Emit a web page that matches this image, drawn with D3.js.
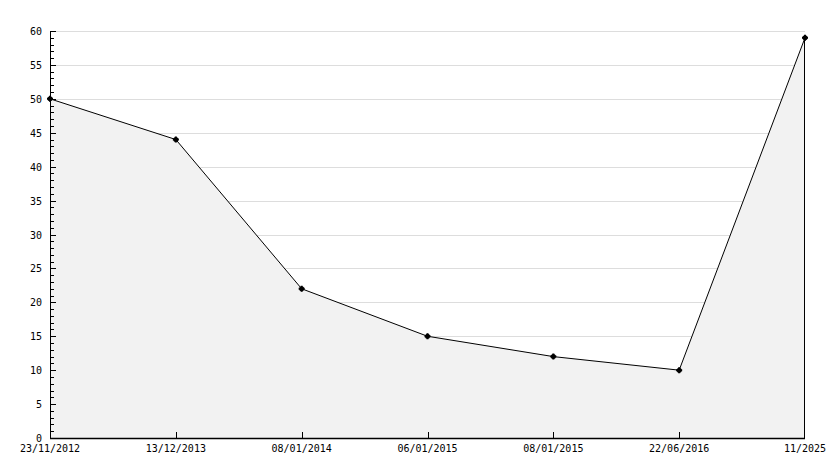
<!DOCTYPE html>
<html lang="en">
<head>
<meta charset="utf-8">
<script src="https://cdnjs.cloudflare.com/ajax/libs/d3/7.7.0/d3.min.js"></script>
<style>
html, body { margin: 0; padding: 0; background: #fff; }
svg { display: block; font-family: 'DejaVu Sans Mono', monospace; }
text { font-size: 10px; fill: #000; }
</style>
</head>
<body>
<svg width="834" height="468"></svg>
<script>
const dates = ['23/11/2012', '13/12/2013', '08/01/2014', '06/01/2015', '08/01/2015', '22/06/2016', '11/2025'];
const values = [50, 44, 22, 15, 12, 10, 59];
const yTicks = [0, 5, 10, 15, 20, 25, 30, 35, 40, 45, 50, 55, 60];

const svg = d3.select('svg');
const m = { left: 50, right: 805, top: 31, bottom: 438 };

const x = d3.scalePoint().domain(d3.range(dates.length)).range([m.left, m.right]);
const y = d3.scaleLinear().domain([0, 60]).range([m.bottom, m.top]);

// grid lines
svg.append('g').selectAll('line')
  .data(yTicks.filter(d => d > 0))
  .enter().append('line')
  .attr('x1', m.left).attr('x2', m.right)
  .attr('y1', d => Math.round(y(d)) + 0.5).attr('y2', d => Math.round(y(d)) + 0.5)
  .attr('stroke', '#dddddd');

// area
const pts = values.map((v, i) => [x(i), y(v)]);
const area = d3.area().x(d => d[0]).y0(m.bottom).y1(d => d[1]);
svg.append('path')
  .datum(pts)
  .attr('d', area)
  .attr('fill', '#f2f2f2');

// right edge of the area
svg.append('line')
  .attr('x1', x(dates.length - 1) - 0.5).attr('x2', x(dates.length - 1) - 0.5)
  .attr('y1', y(values[values.length - 1])).attr('y2', m.bottom)
  .attr('stroke', '#000');

// line
svg.append('path')
  .datum(pts)
  .attr('d', d3.line())
  .attr('fill', 'none')
  .attr('stroke', '#000')
  .attr('stroke-width', 1);

// y axis
const yAxis = svg.append('g');
yAxis.append('line')
  .attr('x1', m.left + 0.5).attr('x2', m.left + 0.5)
  .attr('y1', m.top).attr('y2', m.bottom + 1)
  .attr('stroke', '#000');
yAxis.selectAll('.minor')
  .data(d3.range(0, 61))
  .enter().append('line')
  .attr('x1', m.left).attr('x2', d => d % 5 === 0 ? m.left + 6 : m.left + 4)
  .attr('y1', d => Math.round(y(d)) + 0.5).attr('y2', d => Math.round(y(d)) + 0.5)
  .attr('stroke', '#000');
yAxis.selectAll('text')
  .data(yTicks)
  .enter().append('text')
  .attr('x', m.left - 8)
  .attr('y', d => y(d) + 4)
  .attr('text-anchor', 'end')
  .text(d => d);

// x axis
const xAxis = svg.append('g');
xAxis.append('line')
  .attr('x1', m.left).attr('x2', m.right)
  .attr('y1', m.bottom + 0.5).attr('y2', m.bottom + 0.5)
  .attr('stroke', '#000')
  .attr('stroke-width', 1.5);
xAxis.selectAll('.tick')
  .data(d3.range(1, dates.length - 1))
  .enter().append('line')
  .attr('x1', d => Math.round(x(d)) + 0.5).attr('x2', d => Math.round(x(d)) + 0.5)
  .attr('y1', m.bottom - 6).attr('y2', m.bottom)
  .attr('stroke', '#000');
xAxis.selectAll('text')
  .data(dates)
  .enter().append('text')
  .attr('x', (d, i) => x(i))
  .attr('y', m.bottom + 14)
  .attr('text-anchor', 'middle')
  .text(d => d);

// markers
svg.append('g').selectAll('path')
  .data(pts)
  .enter().append('path')
  .attr('transform', d => `translate(${d[0]},${d[1]})`)
  .attr('d', d3.symbol(d3.symbolCross, 20))
  .attr('fill', '#000');
svg.append('g').selectAll('circle')
  .data(pts)
  .enter().append('circle')
  .attr('cx', d => d[0]).attr('cy', d => d[1])
  .attr('r', 2.5)
  .attr('fill', '#000');
</script>
</body>
</html>
